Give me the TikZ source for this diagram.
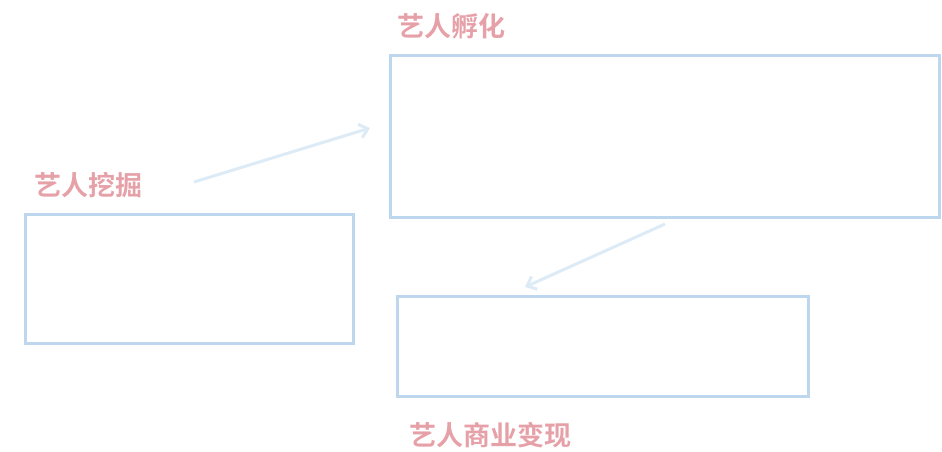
\documentclass[tikz,border=0pt]{standalone}
\usepackage{fontspec}
\newfontfamily\cjk{Noto Sans CJK SC}[BoldFont={Noto Sans CJK SC Bold}]
\usetikzlibrary{arrows.meta}
\definecolor{boxblue}{HTML}{BDD7EE}
\definecolor{arrblue}{HTML}{DDEBF7}
\definecolor{labpink}{HTML}{E6A1A8}
\begin{document}
\begin{tikzpicture}[x=1pt,y=-1pt,
  panel/.style={draw=boxblue,line width=3pt},
  lab/.style={text=labpink,font=\cjk\bfseries\fontsize{27}{32}\selectfont,inner sep=0pt,anchor=west},
  conn/.style={draw=arrblue,line width=3pt,-{Straight Barb[length=8pt,width=14pt,line width=3pt]}}]
\useasboundingbox (0,0) rectangle (942,452);
\node[panel,minimum width=328pt,minimum height=129pt,anchor=north west,inner sep=0pt] (dig) at (24,213) {};
\node[panel,minimum width=549pt,minimum height=162pt,anchor=north west,inner sep=0pt] (inc) at (389,54) {};
\node[panel,minimum width=411pt,minimum height=100pt,anchor=north west,inner sep=0pt] (biz) at (396,295) {};
\node[lab] (ldig) at (34,185) {艺人挖掘};
\node[lab] (linc) at (397,26) {艺人孵化};
\node[lab] (lbiz) at (409,435) {艺人商业变现};
\coordinate (a1s) at (194,182);
\coordinate (a1e) at (370,128);
\coordinate (a2s) at (665,224);
\coordinate (a2e) at (525,287);
\draw[conn] (a1s) -- (a1e);
\draw[conn] (a2s) -- (a2e);
\end{tikzpicture}
\end{document}
